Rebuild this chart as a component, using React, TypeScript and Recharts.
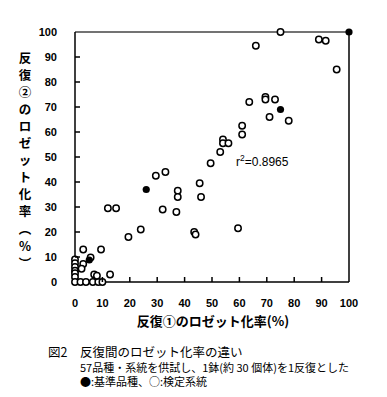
import { ScatterChart, Scatter, XAxis, YAxis, ReferenceLine } from 'recharts';

// 反復①, 反復② (%) — 検定系統 (open circles)
const testX = [75, 89, 91.5, 95.5, 66, 63.6, 69.5, 69.5, 73, 71, 78, 61, 61, 54, 54, 56, 53, 49.5, 45.5, 46, 59.5, 29.5, 33, 37.5, 37.5, 32, 37, 12, 15, 24, 19.5, 43.5, 44, 3, 9.5, 5.7, 3, 2.4, 0, 0, 0, 0, 0, 0, 0, 2, 4, 6.5, 8.5, 10, 7, 8, 12.8];
const testY = [100, 97, 96.5, 85, 94.5, 72, 74, 73, 73, 66, 64.5, 62.5, 59, 57, 55.5, 55.5, 52, 47.5, 39.5, 34, 21.5, 42.5, 44, 36.5, 34, 29, 28, 29.5, 29.5, 21, 18, 20, 19, 13, 13, 9.8, 7.2, 5.3, 9, 7.5, 6, 4.5, 3.5, 2, 0, 0, 0, 0, 0, 0, 3, 2.5, 3];
// 基準品種 (filled circles)
const stdX = [100, 75, 26, 5.2];
const stdY = [100, 69, 37, 8.8];

const ticks = [0, 10, 20, 30, 40, 50, 60, 70, 80, 90, 100];
const yLabel = ['反', '復', '②', 'の', 'ロ', 'ゼ', 'ッ', 'ト', '化', '率', '︵', '%', '︶'];

const testData = testX.map((x, i) => ({ x, y: testY[i] }));
const stdData = stdX.map((x, i) => ({ x, y: stdY[i] }));

const numFont = '"Liberation Sans", Arial, sans-serif';
const jpFont = '"Noto Sans CJK JP", sans-serif';

const OpenDot = (p: any) => <circle cx={p.cx} cy={p.cy} r={3.2} fill="#fff" stroke="#000" strokeWidth={1.5} />;
const FilledDot = (p: any) => <circle cx={p.cx} cy={p.cy} r={3.6} fill="#000" />;

const YTick = (p: any) => {
  const v = p.payload.value;
  return (
    <g>
      {v > 0 && v < 100 && <line x1={p.x} x2={p.x + 5} y1={p.y} y2={p.y} stroke="#000" strokeWidth={1.5} />}
      <text x={p.x - 18} y={p.y} textAnchor="end" dominantBaseline="central" fontFamily={numFont} fontWeight="bold" fontSize={11} fill="#000">{v}</text>
    </g>
  );
};

const XTick = (p: any) => {
  const v = p.payload.value;
  return (
    <g>
      {v > 0 && v < 100 && <line x1={p.x} x2={p.x} y1={p.y} y2={p.y - 5} stroke="#000" strokeWidth={1.5} />}
      <text x={p.x} y={p.y + 25} textAnchor="middle" fontFamily={numFont} fontWeight="bold" fontSize={11} fill="#000">{v}</text>
    </g>
  );
};

export default function App() {
  return (
    <div style={{ position: 'absolute', left: 0, top: 0, width: 387, height: 397, background: '#fff' }}>
      <ScatterChart width={387} height={397} margin={{ top: 32, right: 38, bottom: 114, left: 74 }}>
        <XAxis type="number" dataKey="x" domain={[0, 100]} ticks={ticks} height={1} tickSize={0} tickMargin={0}
          tickLine={false} tick={<XTick />} axisLine={{ stroke: '#000', strokeWidth: 1.5 }} interval={0} />
        <YAxis type="number" dataKey="y" domain={[0, 100]} ticks={ticks} width={1} tickSize={0} tickMargin={0}
          tickLine={false} tick={<YTick />} axisLine={{ stroke: '#000', strokeWidth: 1.5 }} interval={0} />
        <ReferenceLine y={100} stroke="#444" strokeWidth={1.5} />
        <ReferenceLine x={100} stroke="#000" strokeWidth={1.5} />
        <Scatter data={testData} shape={<OpenDot />} isAnimationActive={false} />
        <Scatter data={stdData} shape={<FilledDot />} isAnimationActive={false} />
      </ScatterChart>
      <svg width={387} height={397} style={{ position: 'absolute', left: 0, top: 0, pointerEvents: 'none' }}>
        <text x={236} y={166} fontFamily={numFont} fontSize={12} fill="#000">
          r<tspan dy={-5} fontSize={8.5}>2</tspan><tspan dy={5}>=0.8965</tspan>
        </text>
        {yLabel.map((c, i) => (
          <text key={i} x={25} y={57 + i * 17.1} textAnchor="middle" dominantBaseline="central"
            fontFamily={jpFont} fontWeight="bold" fontSize={12.5} fill="#000">{c}</text>
        ))}
        <text x={213} y={326} textAnchor="middle" fontFamily={jpFont} fontWeight="bold" fontSize={13} fill="#000">
          反復①のロゼット化率(%)
        </text>
        <text x={48} y={357} fontFamily={jpFont} fontSize={12.5} fill="#000">図2</text>
        <text x={80} y={357} fontFamily={jpFont} fontSize={12.5} fill="#000">反復間のロゼット化率の違い</text>
        <text x={80} y={372} fontFamily={jpFont} fontSize={11} fill="#000">57品種・系統を供試し、1鉢(約 30 個体)を1反復とした</text>
        <text x={80} y={386} fontFamily={jpFont} fontSize={11} fill="#000">●:基準品種、○:検定系統</text>
      </svg>
    </div>
  );
}
